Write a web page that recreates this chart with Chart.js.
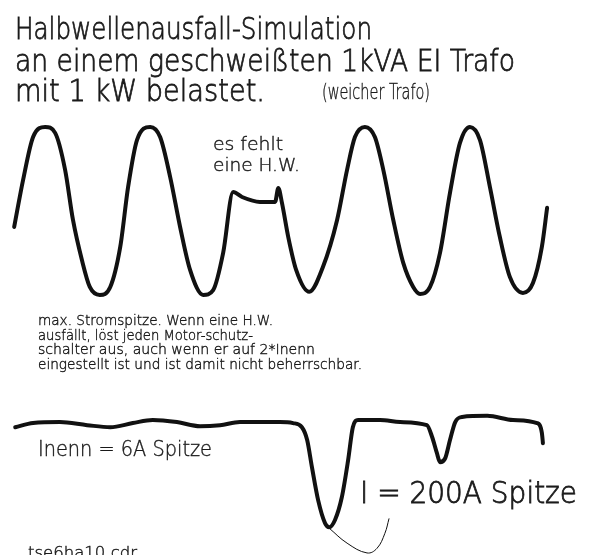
<!DOCTYPE html>
<html>
<head>
<meta charset="utf-8">
<script src="https://cdn.jsdelivr.net/npm/chart.js@4/dist/chart.umd.min.js"></script>
<style>
    html, body { margin: 0; padding: 0; background: #fff; }
    canvas { display: block; }
</style>
</head>
<body>
<canvas id="scope" width="597" height="555"></canvas>
<script>
// Zeitachse in ms (50 Hz -> 20 ms pro Periode)
var voltTime = [0.2, 1.9, 3.8, 6.1, 8.0, 9.9, 11.4, 13.1, 14.6, 16.5, 18.5, 20.4, 21.9, 23.6, 26.1,
    28.0, 29.9, 31.8, 33.7, 36.2, 38.1, 40.0, 41.9, 43.6, 47.0, 49.9, 50.5, 51.2, 52.4, 53.9,
    56.4, 59.0, 61.7, 63.6, 65.1, 67.0, 68.9, 70.5, 72.4, 74.3, 76.2, 77.5, 79.4, 81.3, 83.2,
    85.1, 87.0, 88.9, 90.8, 92.7, 94.6, 97.1, 99.0, 100.7, 101.7];
// Spannung in V
var voltValues = [-62, 120, 286, 325, 302, 159, -35, -190, -294, -325, -294, -139, 93, 275, 325,
    286, 132, -62, -228, -325, -306, -162, 73, 54, 35, 35, 89, 31, -101, -228,
    -313, -217, -35, 159, 286, 325, 286, 159, -35, -201, -294, -321, -294, -162, 70,
    263, 325, 275, 93, -101, -255, -317, -279, -139, 12];

var currTime = [0.4, 3.8, 8.9, 14.1, 18.5, 22.8, 26.6, 31.2, 35.6, 39.4, 43.2, 48.4, 50.8, 53.3,
    55.0, 56.0, 56.9, 58.1, 59.4, 60.2, 61.3, 62.6, 63.8, 64.7, 65.7, 69.9, 73.7, 78.8,
    79.8, 80.7, 81.3, 82.3, 83.2, 84.2, 85.5, 90.3, 95.2, 99.8, 100.7, 100.9];
// Strom in A
var currValues = [-6, 2, 4, -2, -6, 2, 8, 4, -4, -2, 4, 4, 4, 2,
    -6, -31, -83, -148, -192, -200, -186, -142, -70, -6, 8, 8, 4, -2,
    -25, -56, -74, -66, -31, 4, 14, 16, 8, 2, -17, -37];

// Hinweislinie von der Stromspitze zur Beschriftung
var markTime = [60.2, 63.6, 67.4, 69.3, 70.8, 71.6];
var markValues = [-202, -231, -250, -241, -212, -183];

var labels = [
    { text: 'Halbwellenausfall-Simulation', x: 15, y: 39, size: 31, w: 357 },
    { text: 'an einem geschweißten 1kVA EI Trafo', x: 15, y: 71, size: 31, w: 500 },
    { text: 'mit 1 kW belastet.', x: 15, y: 101, size: 31, w: 250 },
    { text: '(weicher Trafo)', x: 322, y: 99, size: 21, w: 108 },
    { text: 'es fehlt', x: 213, y: 150, size: 17, w: 70 },
    { text: 'eine H.W.', x: 213, y: 171, size: 17, w: 87 },
    { text: 'max. Stromspitze. Wenn eine H.W.', x: 38, y: 325, size: 14, w: 235 },
    { text: 'ausfällt, löst jeden Motor-schutz-', x: 38, y: 340, size: 14, w: 215 },
    { text: 'schalter aus, auch wenn er auf 2*Inenn', x: 38, y: 354, size: 14, w: 277 },
    { text: 'eingestellt ist und ist damit nicht beherrschbar.', x: 38, y: 369, size: 14, w: 324 },
    { text: 'Inenn = 6A Spitze', x: 38, y: 456, size: 21, w: 174 },
    { text: 'I = 200A Spitze', x: 360, y: 503, size: 30, w: 217 },
    { text: 'tse6ha10.cdr', x: 28, y: 558, size: 15, w: 109 }
];

function toPoints(xs, ys) {
    return xs.map(function (x, i) { return { x: x, y: ys[i] }; });
}

var textPlugin = {
    id: 'scopeText',
    beforeDraw: function (chart) {
        var ctx = chart.ctx;
        ctx.save();
        ctx.fillStyle = '#fff';
        ctx.fillRect(0, 0, chart.width, chart.height);
        ctx.restore();
    },
    afterDraw: function (chart) {
        var ctx = chart.ctx;
        labels.forEach(function (l) {
            ctx.save();
            ctx.font = '200 ' + l.size + 'px "DejaVu Sans", sans-serif';
            ctx.fillStyle = '#1a1a1a';
            ctx.strokeStyle = '#1a1a1a';
            ctx.lineWidth = l.size > 25 ? 0.8 : 0.4;
            ctx.textBaseline = 'alphabetic';
            var m = ctx.measureText(l.text).width;
            ctx.translate(l.x, l.y);
            ctx.scale(l.w / m, 1);
            ctx.fillText(l.text, 0, 0);
            ctx.strokeText(l.text, 0, 0);
            ctx.restore();
        });
    }
};

new Chart(document.getElementById('scope'), {
    type: 'line',
    data: {
        datasets: [{
            label: 'Spannung',
            data: toPoints(voltTime, voltValues),
            yAxisID: 'yV',
            borderColor: '#111',
            borderWidth: 4,
            cubicInterpolationMode: 'monotone',
            borderJoinStyle: 'round',
            borderCapStyle: 'round',
            pointRadius: 0
        }, {
            label: 'Strom',
            data: toPoints(currTime, currValues),
            yAxisID: 'yI',
            borderColor: '#111',
            borderWidth: 4,
            cubicInterpolationMode: 'monotone',
            borderJoinStyle: 'round',
            borderCapStyle: 'round',
            pointRadius: 0
        }, {
            label: 'Hinweis',
            data: toPoints(markTime, markValues),
            yAxisID: 'yI',
            borderColor: '#111',
            borderWidth: 1,
            tension: 0.4,
            pointRadius: 0
        }]
    },
    options: {
        responsive: false,
        animation: false,
        layout: { padding: 0 },
        plugins: { legend: { display: false }, tooltip: { enabled: false } },
        scales: {
            x: { type: 'linear', min: -2.5, max: 111.2, display: false },
            yV: { type: 'linear', min: -1331, max: 816, display: false },
            yI: { type: 'linear', min: -254, max: 823, display: false }
        }
    },
    plugins: [textPlugin]
});
</script>
</body>
</html>
